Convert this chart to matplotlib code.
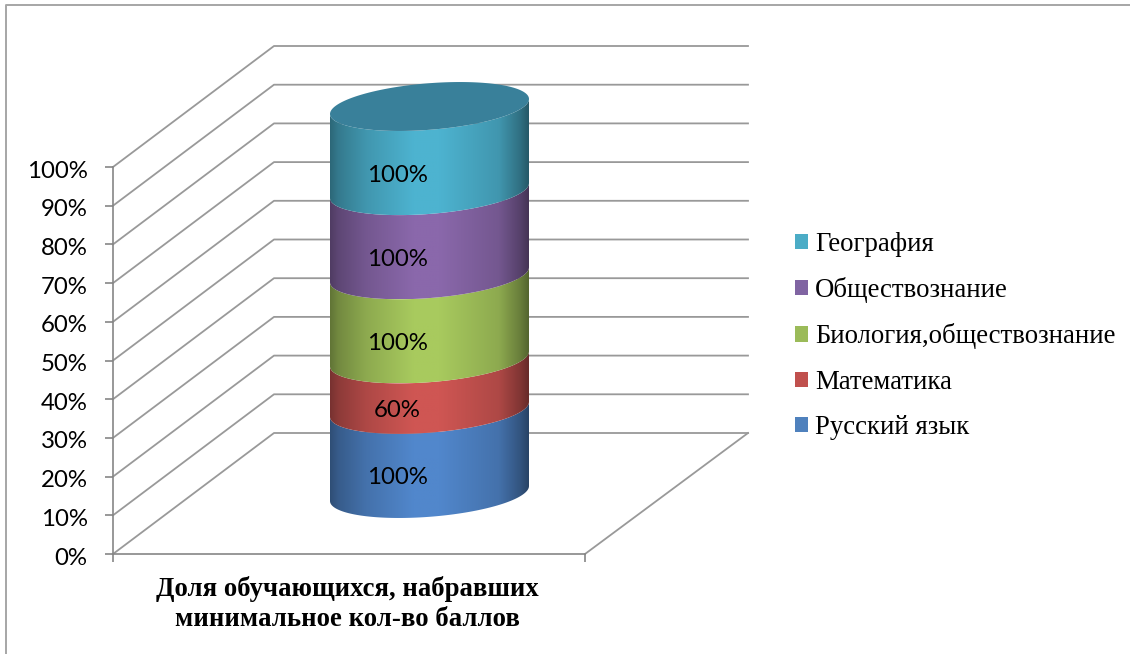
import numpy as np
import matplotlib
matplotlib.use("Agg")
import matplotlib.pyplot as plt
from matplotlib.patches import Patch, Polygon
from matplotlib.ticker import PercentFormatter
from matplotlib.transforms import ScaledTranslation

# данные диаграммы (снизу вверх)
subjects = ["Русский язык", "Математика", "Биология,обществознание", "Обществознание", "География"]
values = [100, 60, 100, 100, 100]
colors = ["#4f81bd", "#c0504d", "#9bbb59", "#8064a2", "#4bacc6"]
peak_colors = ["#5187cc", "#cf5653", "#a8ca5e", "#8a68ab", "#4db3d0"]
y_ticks = [0, 10, 20, 30, 40, 50, 60, 70, 80, 90, 100]
category = "Доля обучающихся, набравших\nминимальное кол-во баллов"

W, H = 1130, 654
Y0_PX, Y100_PX = 554, 167
PX = (Y0_PX - Y100_PX) / 100  # пикселей на 1%

# оси: x в пикселях, y в процентах на передней стенке
fig = plt.figure(figsize=(W / 100, H / 100), dpi=100)
ax = fig.add_axes([0, 0, 1, 1])
ax.set_xlim(0, W)
ax.set_ylim((Y0_PX - H) / PX, Y0_PX / PX)
ax.patch.set_alpha(0)

axis_col = "#868686"
x_front, x_back, x_right_front, x_right_back = 113, 274, 585, 748
depth = (Y0_PX - 433) / PX

for s in ["top", "right"]:
    ax.spines[s].set_visible(False)
ax.spines["left"].set_position(("data", x_front))
ax.spines["left"].set_bounds(0, 100)
ax.spines["bottom"].set_position(("data", 0))
ax.spines["bottom"].set_bounds(x_front, x_right_front)
for s in ["left", "bottom"]:
    ax.spines[s].set_color(axis_col)
    ax.spines[s].set_linewidth(1.2)
ax.set_yticks(y_ticks)
ax.yaxis.set_major_formatter(PercentFormatter(100, decimals=0))
ax.set_xticks([x_front, x_right_front])
ax.tick_params(axis="x", length=5.8, width=1.2, color=axis_col, labelbottom=False)
ax.tick_params(axis="y", length=5.8, width=1.2, color=axis_col, pad=12.5, labelsize=17.3)
shift_down = ScaledTranslation(0, -1.5 / 72, fig.dpi_scale_trans)
for lab in ax.get_yticklabels():
    lab.set_fontfamily("Lato")
    lab.set_color("black")
    lab.set_transform(lab.get_transform() + shift_down)

# рамка
ax.plot([6, 6, W], [ax.get_ylim()[0], ax.get_ylim()[1] - 5 / PX, ax.get_ylim()[1] - 5 / PX],
        color="#a6a6a6", lw=1.4, zorder=1)

# сетка на стенках
for v in y_ticks:
    ax.plot([x_front, x_back, x_right_back], [v, v + depth, v + depth], color="#999999", lw=1.3, zorder=1)
ax.plot([x_right_front, x_right_back], [0, depth], color="#999999", lw=1.3, zorder=1)

# цилиндр
cx = (x_front + x_right_front) / 2 + (x_back - x_front) / 2
rx = 99.5
ry = 23.3 / PX
shear = 7.5 / PX
base = depth / 2
cum = np.concatenate([[0], np.cumsum(values)]) / sum(values) * 100 + base


def rim(center, t):
    return cx + rx * np.cos(t), center + shear * np.cos(t) + ry * np.sin(t)


def gradient(peak):
    pos = np.linspace(0, 1, 200)
    shade = np.interp(pos, [0, 0.04, 0.18, 0.42, 0.55, 0.85, 0.96, 1], [0.58, 0.68, 0.84, 1, 1, 0.84, 0.62, 0.5])
    rgb = np.array(matplotlib.colors.to_rgb(peak))
    return (shade[:, None] * rgb)[None, :, :]


front = np.linspace(np.pi, 2 * np.pi, 120)
# нижняя точка обода
t_low = 2 * np.pi - np.arccos(-shear / np.hypot(shear, ry))
for i in range(len(values)):
    xb, yb = rim(cum[i], front)
    xt, yt = rim(cum[i + 1], front[::-1])
    poly = Polygon(np.column_stack([np.r_[xb, xt], np.r_[yb, yt]]), closed=True, transform=ax.transData,
                   fc="none", ec="none")
    ax.add_patch(poly)
    im = ax.imshow(gradient(peak_colors[i]), extent=(cx - rx, cx + rx, yb.min(), yt.max() + 1), aspect="auto",
                   zorder=3 + i * 0.01, interpolation="bilinear")
    im.set_clip_path(poly)
    lx, ly = rim((cum[i] + cum[i + 1]) / 2, t_low)
    ax.text(lx - 2, ly - 2 / PX, "%d%%" % values[i], ha="center", va="center", fontsize=17.3, family="Lato", zorder=6)

circle = np.linspace(0, 2 * np.pi, 240)
xc, yc = rim(cum[-1], circle)
ax.fill(xc, yc, color="#39809a", lw=0, zorder=4)

ax.set_xlim(0, W)
ax.set_ylim((Y0_PX - H) / PX, Y0_PX / PX)

# подпись категории
ax.text((x_front + x_right_front) / 2 - 1.5, (Y0_PX - 604) / PX, category, ha="center", va="center",
        family="Liberation Serif", weight="bold", fontsize=19.3, linespacing=1.31)

# легенда
handles = [Patch(fc=c, ec="none") for c in colors[::-1]]
ax.legend(handles, subjects[::-1], loc="upper left", bbox_to_anchor=(795, (Y0_PX - 232) / PX),
          bbox_transform=ax.transData, frameon=False, borderpad=0, borderaxespad=0, handlelength=0.5,
          handleheight=0.5, handletextpad=0.26, labelspacing=0.755, prop={"family": "Liberation Serif", "size": 19.3})

fig.savefig("out.png", dpi=100)
